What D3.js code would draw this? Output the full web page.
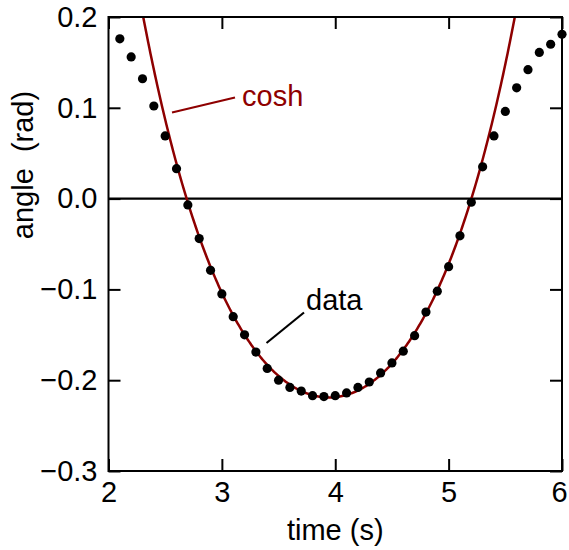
<!DOCTYPE html>
<html>
<head>
<meta charset="utf-8">
<script src="https://cdn.jsdelivr.net/npm/d3@7"></script>
<style>
  html, body { margin: 0; padding: 0; background: #fff; }
  svg { display: block; font-family: "Liberation Sans", Arial, Helvetica, sans-serif; }
</style>
</head>
<body>
<svg id="chart" width="569" height="550"></svg>
<script>
// ---- data ----
const times = [2.1,2.2,2.3,2.4,2.5,2.6,2.7,2.8,2.9,3.0,3.1,3.2,3.3,3.4,3.5,3.6,3.7,3.8,3.9,4.0,
               4.1,4.2,4.3,4.4,4.5,4.6,4.7,4.8,4.9,5.0,5.1,5.2,5.3,5.4,5.5,5.6,5.7,5.8,5.9,6.0];
const angles = [0.176,0.156,0.132,0.102,0.069,0.033,-0.007,-0.044,-0.079,-0.105,
                -0.130,-0.150,-0.169,-0.187,-0.200,-0.208,-0.212,-0.217,-0.218,-0.217,
                -0.214,-0.208,-0.202,-0.192,-0.181,-0.168,-0.151,-0.125,-0.102,-0.075,
                -0.041,-0.004,0.035,0.069,0.096,0.122,0.142,0.161,0.170,0.181];
// cosh fit: y = A*(cosh(k*(t - t0)) - 1) + ymin
const fitA = 0.177, fitK = 1.15, fitT0 = 3.945, fitYmin = -0.219;
const xTicks = [2,3,4,5,6];
const yTicks = [0.2,0.1,0.0,-0.1,-0.2,-0.3];
const xDomain = [2,6];
const yDomain = [-0.3,0.2];
const labels = { x: "time (s)", y: "angle\u00a0\u00a0(rad)", fit: "cosh", data: "data" };

// ---- layout ----
const svg = d3.select("#chart");
const L = 108.5, R = 562, T = 17, B = 471;
const x = d3.scaleLinear().domain(xDomain).range([L, R]);
const y = d3.scaleLinear().domain(yDomain).range([B, T]);
const fs = 29;
const red = "#8e0000";

svg.append("defs").append("clipPath").attr("id","clip")
  .append("rect").attr("x",L).attr("y",T).attr("width",R-L).attr("height",B-T);

// zero line
svg.append("line").attr("x1",L).attr("x2",R).attr("y1",y(0)).attr("y2",y(0))
  .attr("stroke","#000").attr("stroke-width",2.2);

// fit curve
const fitPts = d3.range(1.9, 6.1001, 0.01).map(t => [t, fitA*(Math.cosh(fitK*(t-fitT0))-1)+fitYmin]);
svg.append("path").attr("clip-path","url(#clip)")
  .attr("d", d3.line().x(d=>x(d[0])).y(d=>y(d[1]))(fitPts))
  .attr("fill","none").attr("stroke",red).attr("stroke-width",2.5);

// data points
svg.append("g").selectAll("circle").data(times).join("circle")
  .attr("cx",(d)=>x(d)).attr("cy",(d,i)=>y(angles[i])).attr("r",4.6).attr("fill","#000");

// axes
function styleAxis(g){
  g.select(".domain").remove();
  g.selectAll(".tick line").attr("stroke","#000").attr("stroke-width",2);
  g.selectAll(".tick text").attr("fill","#000").style("font-size",fs+"px")
   .style("font-family",'"Liberation Sans", Arial, Helvetica, sans-serif');
}
const xAxisG = svg.append("g").attr("transform",`translate(0,${B})`)
  .call(d3.axisBottom(x).tickValues(xTicks).tickSize(-12).tickPadding(10).tickFormat(d3.format("d")))
  .call(styleAxis);
// keep the last tick label inside the page edge
xAxisG.selectAll(".tick text").filter(d => d === xDomain[1]).attr("dx", -3);
svg.append("g").attr("transform",`translate(0,${T})`)
  .call(d3.axisTop(x).tickValues(xTicks).tickSize(-12).tickFormat(""))
  .call(styleAxis);
svg.append("g").attr("transform",`translate(${L},0)`)
  .call(d3.axisLeft(y).tickValues(yTicks).tickSize(-12).tickPadding(11).tickFormat(d3.format(".1f")))
  .call(styleAxis);
svg.append("g").attr("transform",`translate(${R},0)`)
  .call(d3.axisRight(y).tickValues(yTicks).tickSize(-12).tickFormat(""))
  .call(styleAxis);

// frame
svg.append("rect").attr("x",L).attr("y",T).attr("width",R-L).attr("height",B-T)
  .attr("fill","none").attr("stroke","#000").attr("stroke-width",2);

// axis labels
svg.append("text").attr("x",(L+R)/2).attr("y",540).attr("text-anchor","middle")
  .style("font-size",fs+"px").text(labels.x);
svg.append("text").attr("transform",`translate(33,${165}) rotate(-90)`).attr("text-anchor","middle")
  .style("font-size",fs+"px").text(labels.y);

// annotations
svg.append("line").attr("x1",172).attr("y1",112.5).attr("x2",235).attr("y2",97.5)
  .attr("stroke",red).attr("stroke-width",2.2);
svg.append("text").attr("x",242).attr("y",106).attr("fill",red)
  .style("font-size",fs+"px").text(labels.fit);
svg.append("line").attr("x1",266.5).attr("y1",343).attr("x2",304).attr("y2",312.5)
  .attr("stroke","#000").attr("stroke-width",2.2);
svg.append("text").attr("x",306).attr("y",310).attr("fill","#000")
  .style("font-size",fs+"px").text(labels.data);
</script>
</body>
</html>
